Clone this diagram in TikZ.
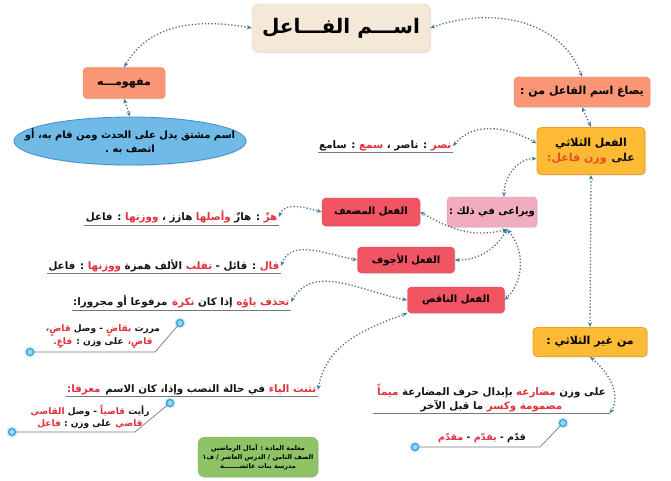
\documentclass[tikz,border=0pt]{standalone}
\usepackage{fontspec}
\usetikzlibrary{arrows.meta,shapes.geometric,shadows}
\TeXXeTstate=1
\newfontfamily\arabicfont[Script=Arabic]{DejaVu Sans}
\tikzset{
  box/.style={
    rectangle,
    rounded corners=4pt,
    align=center,
    inner sep=2pt,
    font=\arabicfont\bfseries\fontsize{11}{15}\selectfont,
    drop shadow={opacity=0.2, shadow xshift=1pt, shadow yshift=-1pt}
  },
  box-title/.style={box, fill=titlebeige, draw=titleedge, rounded corners=6pt,
    font=\arabicfont\bfseries\fontsize{20}{24}\selectfont},
  box-salmon/.style={box, fill=salmon, draw=salmonedge},
  box-orange/.style={box, fill=amber, draw=amberedge, line width=0.8pt},
  box-pink/.style={box, fill=rosepink, draw=rosepinkedge,
    font=\arabicfont\bfseries\fontsize{10}{14}\selectfont},
  box-red/.style={box, fill=alertred, draw=alertrededge,
    font=\arabicfont\bfseries\fontsize{10}{12}\selectfont},
  box-green/.style={box, fill=leafgreen, draw=leafgreenedge, rounded corners=7pt,
    font=\arabicfont\bfseries\fontsize{6.5}{9}\selectfont},
  note/.style={inner sep=1.5pt, align=center,
    font=\arabicfont\bfseries\fontsize{10.3}{14}\selectfont},
  example/.style={note, font=\arabicfont\bfseries\fontsize{9}{12.5}\selectfont},
  link/.style={
    draw=linkgray,
    line width=1.3pt,
    dash pattern=on 1.3pt off 2pt,
    arrows={Stealth[length=5pt,width=4pt,color=tipblue]-Stealth[length=5pt,width=4pt,color=tipblue]}
  },
  rule/.style={draw=rulegray, line width=0.9pt},
  leader/.style={draw=rulegray, line width=0.7pt},
  pin-dot/.style={circle, fill=pinfill, draw=pinblue, line width=1pt, minimum size=7pt,
    inner sep=0pt, preaction={draw=pinglow, line width=4pt}}
}
\definecolor{titlebeige}{RGB}{244,232,217}
\definecolor{titleedge}{RGB}{228,212,192}
\definecolor{salmon}{RGB}{250,150,118}
\definecolor{salmonedge}{RGB}{238,128,98}
\definecolor{amber}{RGB}{253,186,52}
\definecolor{amberedge}{RGB}{240,160,40}
\definecolor{rosepink}{RGB}{242,172,192}
\definecolor{rosepinkedge}{RGB}{228,150,172}
\definecolor{alertred}{RGB}{241,84,98}
\definecolor{alertrededge}{RGB}{222,62,78}
\definecolor{leafgreen}{RGB}{142,196,102}
\definecolor{leafgreenedge}{RGB}{118,172,82}
\definecolor{skyfill}{RGB}{112,186,232}
\definecolor{skyedge}{RGB}{62,142,212}
\definecolor{linkgray}{RGB}{88,110,128}
\definecolor{tipblue}{RGB}{58,126,168}
\definecolor{rulegray}{RGB}{120,120,120}
\definecolor{pinfill}{RGB}{150,215,240}
\definecolor{pinblue}{RGB}{40,150,215}
\definecolor{pinglow}{RGB}{200,235,250}
\definecolor{ink}{RGB}{20,20,20}
\definecolor{hl}{RGB}{226,48,58}
\definecolor{accent}{RGB}{225,80,30}

\begin{document}
\begin{tikzpicture}[x=1pt,y=1pt]
  \useasboundingbox (0,0) rectangle (671,-481);
  % Title and first level
  \node[box-title, minimum width=178pt, minimum height=48pt] (title) at (341,-28) {\beginR اســـم الفـــاعل\endR};
  \node[box-salmon, minimum width=82pt, minimum height=31pt] (mafhum) at (124,-83) {\beginR مفهومـــه\endR};
  \node[box, shape=ellipse, fill=skyfill, draw=skyedge, line width=0.8pt, minimum width=232pt,
    minimum height=48pt, inner xsep=-24pt, inner ysep=-6pt, font=\arabicfont\bfseries\fontsize{10}{14}\selectfont]
    (concept) at (130,-141) {\beginR اسم مشتق يدل على الحدث ومن قام به، أو\endR\\\beginR اتصف به .\endR};
  \node[box-salmon, minimum width=136pt, minimum height=30pt] (yusagh) at (582,-92) {\beginR يصاغ اسم الفاعل من :\endR};
  \node[box-orange, minimum width=108pt, minimum height=47pt] (thulathi) at (591,-151)
    {\beginR الفعل الثلاثي\endR\\\textcolor{accent}{\beginR وزن فاعل:\endR} \textcolor{ink}{\beginR على\endR}};
  \node[note, anchor=east] (nasr) at (453,-146)
    {\textcolor{ink}{\beginR : سامع\endR} \textcolor{hl}{\beginR سمع\endR} \textcolor{ink}{\beginR : ناصر ،\endR} \textcolor{hl}{\beginR نصر\endR}};
  % Cases
  \node[box-pink, minimum width=80pt, minimum height=30pt] (yuraa) at (492,-212) {\beginR ويراعى في ذلك :\endR};
  \node[box-red, minimum width=98pt, minimum height=28pt] (mudaaf) at (371,-212) {\beginR الفعل المضعف\endR};
  \node[box-red, minimum width=97pt, minimum height=26pt] (ajwaf) at (406,-260) {\beginR الفعل الأجوف\endR};
  \node[box-red, minimum width=97pt, minimum height=26pt] (naqis) at (456,-300) {\beginR الفعل الناقص\endR};
  \node[note, anchor=east] (hazz) at (279,-217)
    {\textcolor{ink}{\beginR : فاعل\endR} \textcolor{hl}{\beginR ووزنها\endR} \textcolor{ink}{\beginR هازز ،\endR}
     \textcolor{hl}{\beginR وأصلها\endR} \textcolor{ink}{\beginR : هازّ\endR} \textcolor{hl}{\beginR هزّ\endR}};
  \node[note, anchor=east] (qal) at (281,-266)
    {\textcolor{ink}{\beginR : فاعل\endR} \textcolor{hl}{\beginR ووزنها\endR} \textcolor{ink}{\beginR الألف همزة\endR}
     \textcolor{hl}{\beginR تقلب\endR} \textcolor{ink}{\beginR : قائل -\endR} \textcolor{hl}{\beginR قال\endR}};
  \node[note, anchor=east] (hadhf) at (291,-302)
    {\textcolor{ink}{\beginR مرفوعا أو مجرورا:\endR} \textcolor{hl}{\beginR نكرة\endR}
     \textcolor{ink}{\beginR إذا كان\endR} \textcolor{hl}{\beginR تحذف ياؤه\endR}};
  \node[note, anchor=east] (thabata) at (318,-390)
    {\textcolor{hl}{\beginR معرفا:\endR} \textcolor{ink}{\beginR في حالة النصب وإذا، كان الاسم\endR} \textcolor{hl}{\beginR تثبت الياء\endR}};
  \node[example] (egE) at (103,-337)
    {\textcolor{hl}{\beginR قاضٍ،\endR} \textcolor{ink}{\beginR - وصل\endR} \textcolor{hl}{\beginR بقاضٍ\endR} \textcolor{ink}{\beginR مررت\endR}\\
     \textcolor{hl}{\beginR فاعٍ.\endR} \textcolor{ink}{\beginR على وزن :\endR} \textcolor{hl}{\beginR قاضٍ،\endR}};
  \node[example] (egG) at (90,-417)
    {\textcolor{hl}{\beginR القاضي\endR} \textcolor{ink}{\beginR - وصل\endR} \textcolor{hl}{\beginR قاضياً\endR} \textcolor{ink}{\beginR رأيت\endR}\\
     \textcolor{hl}{\beginR فاعل\endR} \textcolor{ink}{\beginR على وزن :\endR} \textcolor{hl}{\beginR قاضي\endR}};
  % Non-trilateral
  \node[box-orange, minimum width=114pt, minimum height=29pt] (ghayr) at (590,-342) {\beginR من غير الثلاثي :\endR};
  \node[note, anchor=east, inner xsep=4pt] (mud) at (610,-398)
    {\textcolor{hl}{\beginR ميماً\endR} \textcolor{ink}{\beginR بإبدال حرف المضارعة\endR} \textcolor{hl}{\beginR مضارعه\endR} \textcolor{ink}{\beginR على وزن\endR}\\
     \textcolor{ink}{\beginR ما قبل الآخر\endR} \textcolor{hl}{\beginR مضمومة وكسر\endR}};
  \node[example, font=\arabicfont\bfseries\fontsize{9.5}{12.5}\selectfont] (egI) at (482,-438)
    {\textcolor{hl}{\beginR مقدّم\endR} \textcolor{ink}{\beginR -\endR} \textcolor{hl}{\beginR يقدّم\endR} \textcolor{ink}{\beginR قدّم -\endR}};
  \node[box-green, minimum width=120pt, minimum height=40pt] (credit) at (258,-457)
    {\beginR معلمة المادة : آمال الرماضين\endR\\\beginR الصف الثامن / الدرس العاشر / ف١\endR\\\beginR مدرسة بنات عائشـــــــة\endR};

  % underlines
  \draw[rule] (nasr.south west) -- (nasr.south east);
  \draw[rule] (hazz.south west) -- (hazz.south east);
  \draw[rule] (qal.south west) -- (qal.south east);
  \draw[rule] (hadhf.south west) -- (hadhf.south east);
  \draw[rule] (thabata.south west) -- (thabata.south east);
  \draw[rule] (mud.south west) -- (mud.south east);

  % example leaders
  \node[pin-dot] (pinE1) at (180,-323) {};
  \node[pin-dot] (pinE2) at (30,-352) {};
  \coordinate (bendE) at (155,-352);
  \node[pin-dot] (pinG1) at (170,-403) {};
  \node[pin-dot] (pinG2) at (12,-432) {};
  \coordinate (bendG) at (135,-432);
  \node[pin-dot] (pinI1) at (563,-423) {};
  \node[pin-dot] (pinI2) at (415,-447) {};
  \coordinate (bendI) at (540,-447);
  \draw[leader] (pinE1) -- (bendE) -- (pinE2);
  \draw[leader] (pinG1) -- (bendG) -- (pinG2);
  \draw[leader] (pinI1) -- (bendI) -- (pinI2);

  % dotted links
  \draw[link] (title.west) to[out=170,in=60] (mafhum.north);
  \draw[link] (title.east) to[out=20,in=110] (yusagh.north);
  \draw[link] (mafhum.south) -- (concept.north);
  \draw[link] (yusagh.south) -- (thulathi.north);
  \draw[link] (nasr.east) to[out=50,in=150] (thulathi.172);
  \draw[link] (thulathi.188) to[out=180,in=90] ([xshift=12pt]yuraa.north);
  \draw[link] (thulathi.south) -- (ghayr.north);
  \coordinate (hub) at ([xshift=15pt,yshift=-2pt]yuraa.south);
  \draw[link] (hub) to[out=195,in=-30] (mudaaf.east);
  \draw[link] (hub) to[out=-120,in=0] (ajwaf.east);
  \draw[link] (hub) to[out=-50,in=45] (naqis.east);
  \draw[link] (hazz.east) to[out=70,in=165] (mudaaf.west);
  \draw[link] (qal.east) to[out=70,in=170] (ajwaf.west);
  \draw[link] (hadhf.east) to[out=60,in=170] (naqis.west);
  \draw[link] (thabata.east) to[out=80,in=200] (naqis.south west);
  \draw[link] (ghayr.south) to[out=-40,in=60] (mud.south east);
\end{tikzpicture}
\end{document}
